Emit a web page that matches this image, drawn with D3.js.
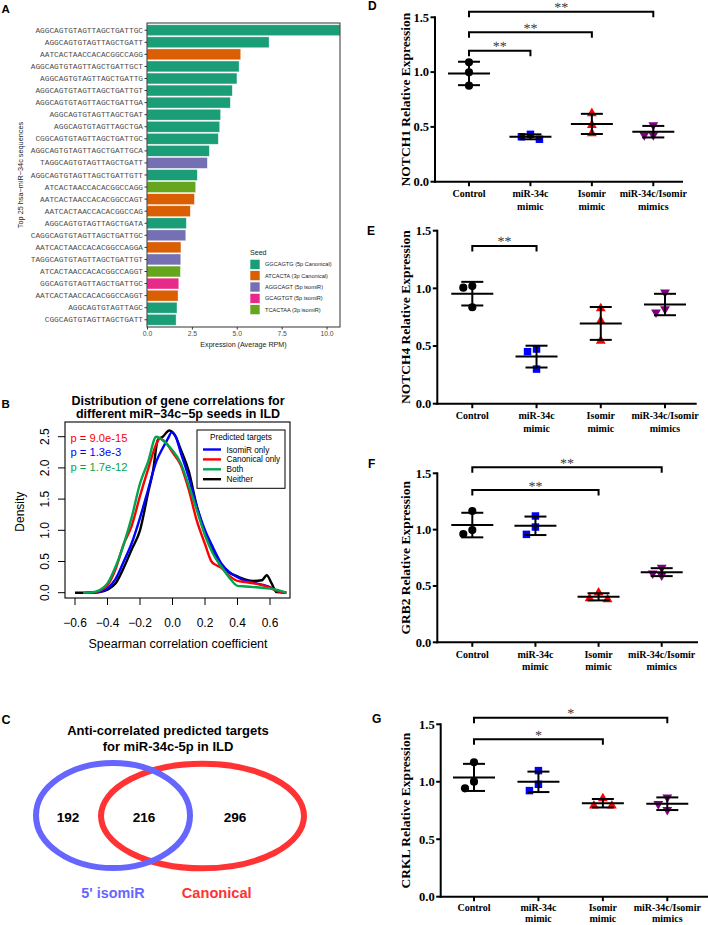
<!DOCTYPE html>
<html><head><meta charset="utf-8">
<script src="https://cdn.jsdelivr.net/npm/d3@7"></script>
<style>body{margin:0;background:#fff}svg{display:block}</style>
</head><body>
<script>
// ---------------- Panel A data ----------------
const seqLabels = [
  "AGGCAGTGTAGTTAGCTGATTGC","AGGCAGTGTAGTTAGCTGATT","AATCACTAACCACACGGCCAGG",
  "AGGCAGTGTAGTTAGCTGATTGCT","AGGCAGTGTAGTTAGCTGATTG","AGGCAGTGTAGTTAGCTGATTGT",
  "AGGCAGTGTAGTTAGCTGATTGA","AGGCAGTGTAGTTAGCTGAT","AGGCAGTGTAGTTAGCTGA",
  "CGGCAGTGTAGTTAGCTGATTGC","AGGCAGTGTAGTTAGCTGATTGCA","TAGGCAGTGTAGTTAGCTGATT",
  "AGGCAGTGTAGTTAGCTGATTGTT","ATCACTAACCACACGGCCAGG","AATCACTAACCACACGGCCAGT",
  "AATCACTAACCACACGGCCAG","AGGCAGTGTAGTTAGCTGATA","CAGGCAGTGTAGTTAGCTGATTGC",
  "AATCACTAACCACACGGCCAGGA","TAGGCAGTGTAGTTAGCTGATTGT","ATCACTAACCACACGGCCAGGT",
  "GGCAGTGTAGTTAGCTGATTGC","AATCACTAACCACACGGCCAGGT","AGGCAGTGTAGTTAGC",
  "CGGCAGTGTAGTTAGCTGATT"];
const seqExpression = [10.75,6.8,5.22,5.13,5.01,4.75,4.64,4.1,4.05,3.97,3.47,3.36,
  2.8,2.71,2.64,2.41,2.19,2.16,1.89,1.88,1.86,1.77,1.73,1.67,1.62];
const seqSeed = ["GGCAGTG","GGCAGTG","ATCACTA","GGCAGTG","GGCAGTG","GGCAGTG","GGCAGTG",
  "GGCAGTG","GGCAGTG","GGCAGTG","GGCAGTG","AGGCAGT","GGCAGTG","TCACTAA","ATCACTA",
  "ATCACTA","GGCAGTG","AGGCAGT","ATCACTA","AGGCAGT","TCACTAA","GCAGTGT","ATCACTA",
  "GGCAGTG","GGCAGTG"];
const seedKeys = ["GGCAGTG","ATCACTA","AGGCAGT","GCAGTGT","TCACTAA"];
const seedLabels = ["GGCAGTG (5p Canonical)","ATCACTA (3p Canonical)","AGGCAGT (5p isomiR)",
  "GCAGTGT (5p isomiR)","TCACTAA (3p isomiR)"];
const aTicks = [0,2.5,5,7.5,10];

// ---------------- Panel B data ----------------
const seriesNames = ["IsomiR only","Canonical only","Both","Neither"];
const isoX = [-0.53,-0.48,-0.43,-0.4,-0.35,-0.3,-0.25,-0.2,-0.15,-0.1,-0.06,-0.03,-0.005,0.02,0.05,0.1,0.15,0.2,0.25,0.3,0.35,0.4,0.45,0.5,0.55,0.6,0.65,0.7];
const isoY = [0,0.003,0.03,0.07,0.22,0.5,0.8,1.2,1.65,2.1,2.32,2.46,2.57,2.5,2.25,1.85,1.38,1.0,0.72,0.47,0.33,0.25,0.19,0.16,0.13,0.09,0.02,0];
const canX = [-0.53,-0.48,-0.43,-0.4,-0.35,-0.3,-0.25,-0.2,-0.15,-0.1,-0.077,-0.04,0,0.05,0.1,0.15,0.2,0.24,0.27,0.3,0.35,0.4,0.45,0.5,0.55,0.6,0.65,0.7];
const canY = [0,0.005,0.06,0.12,0.38,0.78,1.08,1.55,1.98,2.38,2.47,2.4,2.25,2.05,1.65,1.15,0.78,0.5,0.44,0.4,0.27,0.19,0.17,0.15,0.12,0.08,0.02,0];
const bothX = [-0.55,-0.5,-0.45,-0.4,-0.35,-0.3,-0.25,-0.2,-0.15,-0.1,-0.05,0,0.05,0.1,0.15,0.2,0.25,0.3,0.35,0.4,0.45,0.5,0.55,0.6,0.65,0.7];
const bothY = [0,0.005,0.04,0.15,0.42,0.78,1.22,1.75,2.1,2.5,2.42,2.28,2.08,1.72,1.32,0.92,0.62,0.42,0.24,0.11,0.1,0.09,0.08,0.065,0.04,0];
const neitherX = [-0.6,-0.5,-0.45,-0.4,-0.35,-0.3,-0.25,-0.2,-0.15,-0.12,-0.09,-0.06,-0.02,0.02,0.05,0.1,0.15,0.2,0.25,0.3,0.35,0.4,0.45,0.5,0.55,0.58,0.61,0.64,0.7];
const neitherY = [0,0,0.01,0.05,0.15,0.4,0.7,1.0,1.6,1.95,2.45,2.5,2.6,2.5,2.3,1.95,1.38,0.95,0.65,0.42,0.32,0.26,0.21,0.19,0.2,0.28,0.15,0.01,0];
const pValues = ["p = 9.0e-15","p = 1.3e-3","p = 1.7e-12"];
const bXTicks = [-0.6,-0.4,-0.2,0,0.2,0.4,0.6];
const bYTicks = [0,0.5,1,1.5,2,2.5];

// ---------------- Panel C data ----------------
const vennCounts = [192,216,296];
const vennSets = ["5' isomiR","Canonical"];

// ---------------- Panels D-G data ----------------
const groupLabels = [["Control"],["miR-34c","mimic"],["Isomir","mimic"],["miR-34c/Isomir","mimics"]];
const notch1 = [[1.089,0.998,0.876],[0.432,0.387,0.41],[0.624,0.517,0.441],[0.517,0.426,0.426]];
const notch4 = [[1.02,1.006,0.836],[0.474,0.451,0.30],[0.827,0.717,0.544],[0.966,0.793,0.821]];
const grb2   = [[1.165,0.996,0.961],[1.121,1.023,0.958],[0.44,0.381,0.39],[0.662,0.594,0.612]];
const crkl   = [[1.17,1.001,0.943],[1.097,0.978,0.923],[0.856,0.792,0.792],[0.865,0.807,0.755]];
const dotYTicks = [0,0.5,1.0,1.5];
const notch1Sig = [[0,1,1.195,"**"],[0,2,1.363,"**"],[0,3,1.551,"**"]];
const notch4Sig = [[0,1,1.368,"**"]];
const grb2Sig   = [[0,2,1.351,"**"],[0,3,1.553,"**"]];
const crklSig   = [[0,2,1.37,"*"],[0,3,1.558,"*"]];

// ---------------- drawing ----------------
const SANS = "'Liberation Sans', Arial, Helvetica, sans-serif";
const SERIF = "'Liberation Serif', 'Times New Roman', serif";
const MONO = "'Liberation Mono', 'Courier New', monospace";
const svg = d3.select("body").append("svg").attr("width",708).attr("height",925)
  .style("background","#fff");

function letter(t,x,y,size){
  svg.append("text").attr("x",x).attr("y",y).text(t)
    .attr("font-family",SANS).attr("font-weight","bold").attr("font-size",size||11.5).attr("fill","#000");
}

// ===== Panel A =====
(function(){
  const seedColor = d3.scaleOrdinal().domain(seedKeys)
    .range(["#1b9e77","#d95f02","#7570b3","#e7298a","#66a61e"]);
  const x = d3.scaleLinear().domain([0,10.75]).range([147,340]);
  const y = d3.scaleBand().domain(seqLabels).range([23,327]).paddingInner(0.1).paddingOuter(0.15);
  letter("A",1.5,13.3,11.5);
  const g = svg.append("g");
  g.append("clipPath").attr("id","clipA").append("rect")
    .attr("x",147).attr("y",23).attr("width",193).attr("height",304);
  g.append("g").attr("clip-path","url(#clipA)").selectAll("rect").data(seqLabels).join("rect")
    .attr("x",x(0)).attr("y",d=>y(d)).attr("height",y.bandwidth())
    .attr("width",(d,i)=>x(seqExpression[i])-x(0))
    .attr("fill",(d,i)=>seedColor(seqSeed[i]))
    .attr("stroke","#ffffff").attr("stroke-width",0.6).attr("stroke-opacity",0.6);
  g.append("rect").attr("x",147).attr("y",23).attr("width",193).attr("height",304)
    .attr("fill","none").attr("stroke","#333").attr("stroke-width",1);
  const ax = g.append("g").attr("transform","translate(0,327)")
    .call(d3.axisBottom(x).tickValues(aTicks).tickFormat(d3.format(".1f")).tickSize(2.5).tickPadding(1.5));
  ax.select(".domain").remove();
  ax.selectAll("line").attr("stroke","#333");
  ax.selectAll("text").attr("font-family",SANS).attr("font-size",6.8).attr("fill","#4d4d4d");
  const ay = g.append("g").attr("transform","translate(147,0)")
    .call(d3.axisLeft(y).tickSize(2.5).tickPadding(1.5));
  ay.select(".domain").remove();
  ay.selectAll("line").attr("stroke","#333");
  ay.selectAll("text").attr("font-family",MONO).attr("font-size",7.8).attr("fill","#4d4d4d");
  g.append("text").attr("x",243.5).attr("y",346.5).attr("text-anchor","middle")
    .attr("font-family",SANS).attr("font-size",7.15).attr("fill","#222").text("Expression (Average RPM)");
  g.append("text").attr("transform","translate(22.5,175) rotate(-90)").attr("text-anchor","middle")
    .attr("font-family",SANS).attr("font-size",7.3).attr("fill","#222").text("Top 25 hsa\u2212miR\u221234c sequences");
  // legend
  const lg = g.append("g");
  lg.append("text").attr("x",250).attr("y",255).attr("font-family",SANS).attr("font-size",7.1)
    .attr("fill","#222").text("Seed");
  seedKeys.forEach((k,i)=>{
    const yy = 259.3 + i*11.35;
    lg.append("rect").attr("x",250).attr("y",yy).attr("width",10).attr("height",10)
      .attr("fill",seedColor(k)).attr("stroke","#fff").attr("stroke-width",0.6);
    lg.append("text").attr("x",265).attr("y",yy+7).attr("font-family",SANS).attr("font-size",5.6)
      .attr("fill","#222").text(seedLabels[i]);
  });
})();

// ===== Panel B =====
(function(){
  const x = d3.scaleLinear().domain([-0.6,0.6]).range([75,270]);
  const y = d3.scaleLinear().domain([0,2.5]).range([592.7,436.7]);
  const L=65, R=290, T=422, B=598;
  letter("B",1.5,408,11.5);
  const g = svg.append("g");
  g.append("text").attr("x",178).attr("y",404.5).attr("text-anchor","middle").attr("font-family",SANS)
    .attr("font-weight","bold").attr("font-size",12.5).text("Distribution of gene correlations for");
  g.append("text").attr("x",178).attr("y",418.3).attr("text-anchor","middle").attr("font-family",SANS)
    .attr("font-weight","bold").attr("font-size",12.5).text("different miR\u221234c\u22125p seeds in ILD");
  const colors = ["#0000ff","#ff0000","#00a550","#000000"];
  const series = [[isoX,isoY],[canX,canY],[bothX,bothY],[neitherX,neitherY]];
  const line = d3.line().x(d=>x(d[0])).y(d=>y(d[1])).curve(d3.curveMonotoneX);
  const drawOrder = [3,0,1,2];
  drawOrder.forEach(k=>{
    const pts = series[k][0].map((v,i)=>[v,series[k][1][i]]);
    g.append("path").attr("d",line(pts)).attr("fill","none").attr("stroke",colors[k])
      .attr("stroke-width",2.4).attr("stroke-linejoin","round");
  });
  g.append("rect").attr("x",L).attr("y",T).attr("width",R-L).attr("height",B-T)
    .attr("fill","none").attr("stroke","#000").attr("stroke-width",1.1);
  bXTicks.forEach(v=>{
    g.append("line").attr("x1",x(v)).attr("x2",x(v)).attr("y1",B).attr("y2",B+7).attr("stroke","#000");
    g.append("text").attr("x",x(v)).attr("y",627).attr("text-anchor","middle").attr("font-family",SANS)
      .attr("font-size",12).text(d3.format(".1f")(v).replace("-","\u2212"));
  });
  bYTicks.forEach(v=>{
    g.append("line").attr("x1",L).attr("x2",L-7).attr("y1",y(v)).attr("y2",y(v)).attr("stroke","#000");
    g.append("text").attr("transform",`translate(48.5,${y(v)}) rotate(-90)`).attr("text-anchor","middle")
      .attr("font-family",SANS).attr("font-size",12).text(d3.format(".1f")(v));
  });
  g.append("text").attr("transform","translate(24,511.7) rotate(-90)").attr("text-anchor","middle")
    .attr("font-family",SANS).attr("font-size",12).text("Density");
  g.append("text").attr("x",178).attr("y",647.5).attr("text-anchor","middle")
    .attr("font-family",SANS).attr("font-size",12.5).text("Spearman correlation coefficient");
  pValues.forEach((p,i)=>{
    g.append("text").attr("x",70.5).attr("y",442+i*14.3).attr("font-family",SANS).attr("font-size",11.2)
      .attr("fill",colors[[1,0,2][i]]).text(p);
  });
  // legend
  g.append("rect").attr("x",197).attr("y",430).attr("width",88).attr("height",58.3)
    .attr("fill","#fff").attr("stroke","#000").attr("stroke-width",1);
  g.append("text").attr("x",241).attr("y",440.3).attr("text-anchor","middle").attr("font-family",SANS)
    .attr("font-size",8.2).text("Predicted targets");
  seriesNames.forEach((s,i)=>{
    const yy = 449.5 + i*9.9;
    g.append("line").attr("x1",203).attr("x2",221).attr("y1",yy).attr("y2",yy)
      .attr("stroke",colors[i]).attr("stroke-width",2.4);
    g.append("text").attr("x",226.5).attr("y",yy+3).attr("font-family",SANS).attr("font-size",8.2).text(s);
  });
})();

// ===== Panel C =====
(function(){
  letter("C",1.5,724,12.5);
  const g = svg.append("g");
  g.append("text").attr("x",168).attr("y",735).attr("text-anchor","middle").attr("font-family",SANS)
    .attr("font-weight","bold").attr("font-size",13).text("Anti-correlated predicted targets");
  g.append("text").attr("x",168).attr("y",751).attr("text-anchor","middle").attr("font-family",SANS)
    .attr("font-weight","bold").attr("font-size",13).text("for miR-34c-5p in ILD");
  g.append("ellipse").attr("cx",202.5).attr("cy",816).attr("rx",101.5).attr("ry",52.3)
    .attr("fill","none").attr("stroke","#ff3333").attr("stroke-width",6);
  g.append("ellipse").attr("cx",113).attr("cy",815.5).attr("rx",77).attr("ry",52.5)
    .attr("fill","none").attr("stroke","#6666ff").attr("stroke-width",6);
  const cx = [68,144,235];
  vennCounts.forEach((c,i)=>{
    g.append("text").attr("x",cx[i]).attr("y",822).attr("text-anchor","middle").attr("font-family",SANS)
      .attr("font-weight","bold").attr("font-size",13.6).text(c);
  });
  g.append("text").attr("x",113).attr("y",898).attr("text-anchor","middle").attr("font-family",SANS)
    .attr("font-weight","bold").attr("font-size",14.4).attr("fill","#6666ff").text(vennSets[0]);
  g.append("text").attr("x",216.7).attr("y",898).attr("text-anchor","middle").attr("font-family",SANS)
    .attr("font-weight","bold").attr("font-size",14.6).attr("fill","#ff3333").text(vennSets[1]);
})();

// ===== Panels D-G =====
const groupColors = ["#000000","#0000ff","#ff0000","#800080"];
const groupShapes = [d3.symbolCircle,d3.symbolSquare,d3.symbolTriangle,d3.symbolTriangle];
const groupSizes = [52,56,42,42];
function dotPanel(cfg){
  letter(cfg.letter,cfg.lx,cfg.ly,12);
  const g = svg.append("g");
  const y = d3.scaleLinear().domain([0,1.5]).range([cfg.y0,cfg.y15]);
  const x = d3.scalePoint().domain(d3.range(4)).range([cfg.c0,cfg.c3]);
  const lab1 = cfg.lab1 || 15.5, labGap = cfg.labGap || 12.6;
  // axes
  g.append("line").attr("x1",cfg.ax).attr("x2",cfg.ax).attr("y1",cfg.y15-1).attr("y2",cfg.y0+1)
    .attr("stroke","#000").attr("stroke-width",2);
  g.append("line").attr("x1",cfg.ax-1).attr("x2",cfg.xEnd).attr("y1",cfg.y0).attr("y2",cfg.y0)
    .attr("stroke","#000").attr("stroke-width",2);
  dotYTicks.forEach(v=>{
    g.append("line").attr("x1",cfg.ax).attr("x2",cfg.ax-4.5).attr("y1",y(v)).attr("y2",y(v))
      .attr("stroke","#000").attr("stroke-width",2);
    g.append("text").attr("x",cfg.ax-6).attr("y",y(v)+4.3).attr("text-anchor","end")
      .attr("font-family",SERIF).attr("font-weight","bold").attr("font-size",12.5).text(d3.format(".1f")(v));
  });
  groupLabels.forEach((lines,i)=>{
    g.append("line").attr("x1",x(i)).attr("x2",x(i)).attr("y1",cfg.y0).attr("y2",cfg.y0+4.5)
      .attr("stroke","#000").attr("stroke-width",2);
    lines.forEach((t,j)=>{
      g.append("text").attr("x",x(i)).attr("y",cfg.y0+lab1+j*labGap).attr("text-anchor","middle")
        .attr("font-family",SERIF).attr("font-weight","bold").attr("font-size",10).text(t);
    });
  });
  g.append("text").attr("transform",`translate(${cfg.tx},${(cfg.y0+cfg.y15)/2}) rotate(-90)`)
    .attr("text-anchor","middle").attr("font-family",SERIF).attr("font-weight","bold")
    .attr("font-size",13.5).text(cfg.title);
  // points (simple swarm to avoid overlaps)
  cfg.values.forEach((vals,i)=>{
    const placed = [];
    const order = vals.map((v,k)=>k).sort((a,b)=>vals[b]-vals[a]);
    order.forEach(k=>{
      const py = y(vals[k]);
      const cands = [0,-9,9,-18,18];
      let dx = 0;
      for(const c of cands){
        if(placed.every(p=>Math.abs(p[1]-py)>=7.5 || Math.abs(p[0]-c)>=8.5)){dx=c;break;}
      }
      placed.push([dx,py]);
      const rot = i===3 ? 180 : 0;
      g.append("path").attr("d",d3.symbol().type(groupShapes[i]).size(groupSizes[i])())
        .attr("transform",`translate(${x(i)+dx},${py}) rotate(${rot})`)
        .attr("fill",groupColors[i]);
    });
    const m = d3.mean(vals), sd = d3.deviation(vals);
    const cxp = x(i);
    g.append("line").attr("x1",cxp-21).attr("x2",cxp+21).attr("y1",y(m)).attr("y2",y(m))
      .attr("stroke","#000").attr("stroke-width",2);
    g.append("line").attr("x1",cxp).attr("x2",cxp).attr("y1",y(m+sd)).attr("y2",y(m-sd))
      .attr("stroke","#000").attr("stroke-width",2);
    [m+sd,m-sd].forEach(v=>g.append("line").attr("x1",cxp-11).attr("x2",cxp+11)
      .attr("y1",y(v)).attr("y2",y(v)).attr("stroke","#000").attr("stroke-width",2));
  });
  // significance brackets
  cfg.sig.forEach(s=>{
    const x0=x(s[0]), x1=x(s[1]), yb=y(s[2]);
    g.append("path").attr("d",`M${x0},${yb+5.5}V${yb}H${x1}V${yb+5.5}`).attr("fill","none")
      .attr("stroke","#000").attr("stroke-width",2);
    g.append("text").attr("x",(x0+x1)/2).attr("y",yb+0.5).attr("text-anchor","middle")
      .attr("font-family",SERIF).attr("font-size",14).attr("fill","#3a3a3a")
      .style("text-rendering","geometricPrecision").text(s[3]);
  });
}
dotPanel({letter:"D",lx:368,ly:10,ax:435,xEnd:683,y0:181.7,y15:17.3,c0:469,c3:653.3,tx:409.5,
  title:"NOTCH1 Relative Expression",values:notch1,sig:notch1Sig});
dotPanel({letter:"E",lx:367,ly:235,ax:437.3,xEnd:696.7,y0:403.7,y15:230.7,c0:472.3,c3:665,tx:409.5,
  title:"NOTCH4 Relative Expression",values:notch4,sig:notch4Sig});
dotPanel({letter:"F",lx:368,ly:468,ax:437.3,xEnd:698,y0:642.3,y15:473.3,c0:472.3,c3:661.7,tx:409.5,
  title:"GRB2 Relative Expression",values:grb2,sig:grb2Sig});
dotPanel({letter:"G",lx:372,ly:723,ax:440.7,xEnd:708,y0:896.7,y15:724.3,c0:474,c3:667.3,tx:410,
  lab1:14.5,labGap:10.3,
  title:"CRKL Relative Expression",values:crkl,sig:crklSig});
</script>
</body></html>
